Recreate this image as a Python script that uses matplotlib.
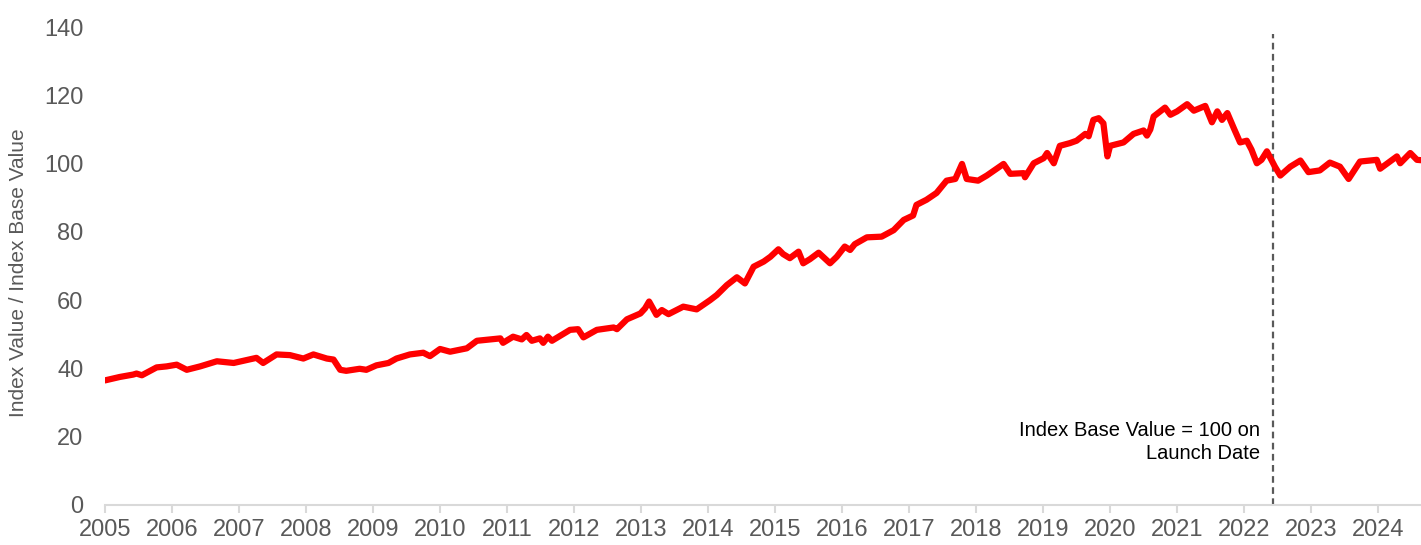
import numpy as np
import matplotlib.pyplot as plt

# Index level (decimal year, value)
years = [
    2005.00, 2005.22, 2005.42, 2005.47, 2005.55, 2005.77, 2005.92, 2006.07, 2006.22,
    2006.42, 2006.67, 2006.92, 2007.26, 2007.36, 2007.56, 2007.76, 2007.96, 2008.11,
    2008.31, 2008.41, 2008.51, 2008.60, 2008.80, 2008.90, 2009.05, 2009.23, 2009.35,
    2009.55, 2009.75, 2009.85, 2010.00, 2010.15, 2010.40, 2010.55, 2010.90, 2010.94,
    2011.09, 2011.22, 2011.29, 2011.37, 2011.49, 2011.54, 2011.61, 2011.67, 2011.94,
    2012.06, 2012.14, 2012.34, 2012.59, 2012.64, 2012.79, 2012.99, 2013.06, 2013.12,
    2013.23, 2013.31, 2013.41, 2013.63, 2013.83, 2014.03, 2014.13, 2014.28, 2014.43,
    2014.55, 2014.68, 2014.83, 2014.93, 2015.05, 2015.12, 2015.22, 2015.35, 2015.42,
    2015.52, 2015.65, 2015.82, 2015.92, 2016.04, 2016.12, 2016.19, 2016.37, 2016.59,
    2016.77, 2016.92, 2017.06, 2017.11, 2017.26, 2017.41, 2017.56, 2017.69, 2017.79,
    2017.86, 2018.03, 2018.16, 2018.41, 2018.51, 2018.71, 2018.73, 2018.86, 2019.01,
    2019.06, 2019.16, 2019.25, 2019.40, 2019.50, 2019.63, 2019.68, 2019.75, 2019.83,
    2019.90, 2019.96, 2020.00, 2020.20, 2020.35, 2020.50, 2020.55, 2020.60, 2020.65,
    2020.82, 2020.90, 2021.00, 2021.15, 2021.25, 2021.42, 2021.52, 2021.60, 2021.67,
    2021.75, 2021.85, 2021.94, 2022.04, 2022.11, 2022.19, 2022.26, 2022.34, 2022.46,
    2022.54, 2022.69, 2022.84, 2022.96, 2023.13, 2023.28, 2023.43, 2023.56, 2023.73,
    2023.98, 2024.03, 2024.28, 2024.33, 2024.48, 2024.58, 2024.64,
]
values = [
    36.5, 37.5, 38.2, 38.5, 38.0, 40.3, 40.6, 41.1, 39.6,
    40.6, 42.1, 41.6, 43.1, 41.6, 44.1, 43.9, 42.9, 44.1,
    42.9, 42.6, 39.6, 39.3, 39.9, 39.6, 40.9, 41.6, 42.9,
    44.1, 44.6, 43.6, 45.7, 44.9, 45.9, 48.1, 48.8, 47.5,
    49.3, 48.5, 49.8, 48.1, 48.8, 47.5, 49.3, 48.1, 51.3,
    51.5, 49.1, 51.3, 52.0, 51.5, 54.4, 56.1, 57.6, 59.6,
    55.7, 57.1, 55.9, 58.1, 57.3, 60.0, 61.5, 64.4, 66.7,
    64.9, 69.8, 71.3, 72.7, 74.9, 73.5, 72.3, 74.2, 70.8,
    72.0, 73.9, 70.8, 72.7, 75.7, 74.7, 76.4, 78.4, 78.6,
    80.5, 83.5, 84.8, 87.9, 89.4, 91.4, 95.0, 95.5, 99.9,
    95.5, 95.0, 96.5, 99.9, 97.0, 97.2, 96.0, 100.1, 101.6,
    103.1, 100.1, 105.2, 106.0, 106.7, 108.7, 108.0, 112.8, 113.3,
    111.8, 102.1, 105.2, 106.2, 108.7, 109.7, 108.2, 110.0, 113.8,
    116.4, 114.3, 115.3, 117.4, 115.5, 116.9, 112.1, 115.3, 112.8,
    114.8, 110.2, 106.2, 106.7, 104.1, 100.1, 101.1, 103.6, 99.1,
    96.5, 99.1, 100.9, 97.5, 98.0, 100.3, 99.1, 95.5, 100.6,
    101.1, 98.5, 102.1, 100.1, 103.1, 101.1, 101.0,
]
launch_date = 2022.43
year_ticks = list(range(2005, 2025))
y_ticks = [0, 20, 40, 60, 80, 100, 120, 140]

grey = "#595959"
plt.rcParams["font.family"] = ["Liberation Sans", "DejaVu Sans"]

fig = plt.figure(figsize=(14.21, 5.45), dpi=100)
ax = fig.add_axes([0.0739, 0.0734, 0.9261, 0.877])

ax.plot(years, values, color="#ff0000", lw=4.5, solid_joinstyle="round",
        solid_capstyle="round", zorder=3)
ax.axvline(launch_date, ymax=0.985, color=grey, lw=1.6, ls=(0, (3, 2)), zorder=2)
ax.text(launch_date - 0.19, 18.5, "Index Base Value = 100 on\nLaunch Date",
        ha="right", va="center", fontsize=14.5, color="black", linespacing=1.3)

ax.set_xlim(2005, 2024.64)
ax.set_ylim(0, 140)
ax.set_xticks(year_ticks)
ax.set_xticklabels([str(y) for y in year_ticks])
ax.set_yticks(y_ticks)

for side in ["top", "right", "left"]:
    ax.spines[side].set_visible(False)
ax.spines["bottom"].set_color("#d9d9d9")
ax.spines["bottom"].set_linewidth(1.5)
ax.tick_params(axis="x", colors="#d9d9d9", labelcolor=grey, labelsize=17,
               length=6, width=1.5, pad=4)
ax.tick_params(axis="y", length=0, labelcolor=grey, labelsize=17, pad=21)
for lbl in ax.get_yticklabels():
    lbl.set_x(0.0057)
ax.set_ylabel("Index Value / Index Base Value", fontsize=15, color=grey)
ax.yaxis.set_label_coords(-0.0585, 0.487)

fig.savefig("out.png", dpi=100)
